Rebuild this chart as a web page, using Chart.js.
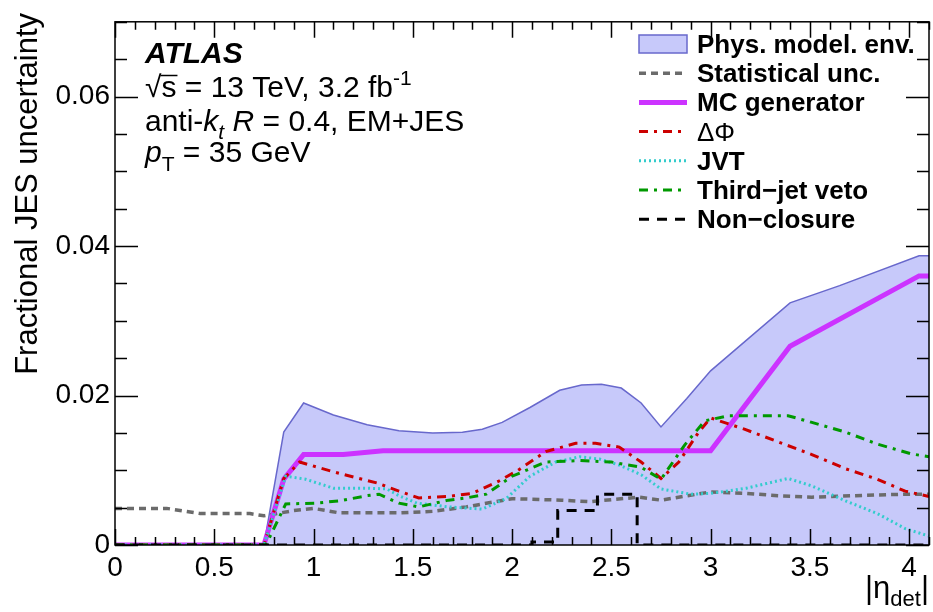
<!DOCTYPE html>
<html lang="en">
  <head>
    <meta charset="UTF-8" />
    <title>Fractional JES uncertainty vs |eta_det|</title>
    <script src="https://cdn.jsdelivr.net/npm/chart.js"></script>
    <style>
      body {
        margin: 0;
        background: #fff;
      }
    </style>
  </head>
  <body>
    <canvas id="jesChart" width="933" height="612"></canvas>
    <script>
      // eta values and uncertainties for each component
      const envEta = [0, 0.75, 0.85, 0.95, 1.1, 1.27, 1.43, 1.6, 1.75, 1.85, 1.95, 2.09, 2.24, 2.35, 2.45, 2.55, 2.65, 2.75, 2.88, 3.0, 3.4, 3.65, 4.05, 4.1];
      const envVal = [0, 0, 0.0151, 0.019, 0.0174, 0.0161, 0.0153, 0.015, 0.0151, 0.0155, 0.0164, 0.0184, 0.0207, 0.0214, 0.0215, 0.021, 0.019, 0.0158, 0.0196, 0.0233, 0.0324, 0.0347, 0.0387, 0.0387];

      const statEta = [0, 0.26, 0.43, 0.68, 0.75, 0.9, 1.0, 1.13, 1.43, 1.6, 1.77, 2.0, 2.25, 2.39, 2.64, 2.75, 3.0, 3.18, 3.34, 3.51, 3.84, 4.01, 4.1];
      const statVal = [0.0049, 0.0049, 0.0042, 0.0042, 0.0039, 0.0046, 0.0049, 0.0043, 0.0043, 0.0045, 0.0051, 0.0062, 0.006, 0.0058, 0.0064, 0.006, 0.0071, 0.0069, 0.0066, 0.0064, 0.0067, 0.0068, 0.0068];

      const mcEta = [0, 0.75, 0.85, 0.95, 1.15, 1.35, 3.0, 3.4, 4.05, 4.1];
      const mcVal = [0, 0, 0.0088, 0.0121, 0.0121, 0.0126, 0.0126, 0.0266, 0.036, 0.036];

      const dphiEta = [0, 0.75, 0.85, 0.93, 1.1, 1.23, 1.32, 1.43, 1.53, 1.68, 1.8, 1.93, 2.03, 2.17, 2.32, 2.42, 2.54, 2.65, 2.75, 2.84, 2.94, 3.0, 3.17, 3.34, 3.51, 3.68, 3.84, 3.98, 4.1];
      const dphiVal = [0, 0, 0.0089, 0.0111, 0.0098, 0.0089, 0.0083, 0.0072, 0.0063, 0.0065, 0.0069, 0.0085, 0.01, 0.0125, 0.0136, 0.0136, 0.0131, 0.0111, 0.0089, 0.0111, 0.0151, 0.017, 0.0155, 0.0138, 0.0121, 0.0102, 0.0088, 0.0072, 0.0065];

      const jvtEta = [0, 0.75, 0.86, 0.96, 1.1, 1.27, 1.37, 1.43, 1.52, 1.68, 1.85, 1.97, 2.09, 2.22, 2.34, 2.44, 2.54, 2.65, 2.75, 2.9, 3.0, 3.18, 3.39, 3.51, 3.68, 3.84, 3.98, 4.1];
      const jvtVal = [0, 0, 0.0092, 0.0088, 0.0076, 0.0076, 0.0075, 0.0066, 0.0056, 0.0051, 0.0048, 0.0062, 0.0092, 0.0111, 0.0118, 0.0115, 0.0107, 0.0094, 0.0075, 0.0068, 0.0069, 0.0076, 0.0089, 0.0079, 0.0059, 0.0042, 0.0022, 0.0012];

      const vetoEta = [0, 0.76, 0.86, 1.01, 1.13, 1.27, 1.33, 1.43, 1.53, 1.68, 1.77, 1.87, 2.0, 2.17, 2.34, 2.5, 2.65, 2.75, 2.87, 2.97, 3.09, 3.39, 3.51, 3.68, 3.84, 4.01, 4.1];
      const vetoVal = [0, 0, 0.0055, 0.0056, 0.0059, 0.0066, 0.0068, 0.0056, 0.0051, 0.006, 0.0063, 0.0068, 0.0092, 0.0111, 0.0113, 0.0111, 0.0104, 0.0088, 0.0134, 0.0166, 0.0173, 0.0173, 0.0164, 0.0151, 0.0135, 0.0122, 0.0118];

      const closureEta = [0, 2.1, 2.1, 2.23, 2.23, 2.43, 2.43, 2.63, 2.63, 4.1];
      const closureVal = [0, 0, 0.0004, 0.0004, 0.0046, 0.0046, 0.0068, 0.0068, 0, 0];

      const FONT = '"Liberation Sans", Arial, Helvetica, sans-serif';

      function pts(xs, ys) {
        return xs.map((x, i) => ({ x: x, y: ys[i] }));
      }

      const datasets = [
        {
          label: "Phys. model. env.",
          data: pts(envEta, envVal),
          borderColor: "rgb(104,104,204)",
          backgroundColor: "rgb(199,201,250)",
          borderWidth: 1.5,
          fill: "origin",
          order: 7,
          isBand: true,
        },
        {
          label: "Statistical unc.",
          data: pts(statEta, statVal),
          borderColor: "#6b6b6b",
          borderWidth: 3.5,
          borderDash: [7, 5],
          order: 6,
        },
        {
          label: "MC generator",
          data: pts(mcEta, mcVal),
          borderColor: "#cc33ff",
          borderWidth: 5,
          order: 5,
        },
        {
          label: "\u0394\u03A6",
          data: pts(dphiEta, dphiVal),
          borderColor: "#cc0000",
          borderWidth: 3,
          borderDash: [9, 6, 3, 6],
          order: 4,
          plain: true,
        },
        {
          label: "JVT",
          data: pts(jvtEta, jvtVal),
          borderColor: "#33cccc",
          borderWidth: 3,
          borderDash: [2, 3],
          order: 3,
        },
        {
          label: "Third\u2212jet veto",
          data: pts(vetoEta, vetoVal),
          borderColor: "#009900",
          borderWidth: 3,
          borderDash: [9, 6, 3, 6],
          order: 2,
        },
        {
          label: "Non\u2212closure",
          data: pts(closureEta, closureVal),
          borderColor: "#000000",
          borderWidth: 3,
          borderDash: [10, 8],
          order: 1,
        },
      ];

      // draws a sequence of text pieces, each with its own font and vertical shift
      function drawRuns(ctx, x, y, runs) {
        runs.forEach((r) => {
          ctx.font = r.font;
          ctx.fillText(r.t, x, y + (r.dy || 0));
          x += ctx.measureText(r.t).width;
        });
        return x;
      }

      function runsWidth(ctx, runs) {
        let w = 0;
        runs.forEach((r) => {
          ctx.font = r.font;
          w += ctx.measureText(r.t).width;
        });
        return w;
      }

      // frame with inward ticks on all four sides, labels and legend
      const decorations = {
        id: "decorations",
        afterDraw(chart) {
          const ctx = chart.ctx;
          const a = chart.chartArea;
          const xs = chart.scales.x;
          const ys = chart.scales.y;
          ctx.save();
          ctx.strokeStyle = "#000";
          ctx.lineWidth = 1.5;
          ctx.strokeRect(a.left, a.top, a.right - a.left, a.bottom - a.top);

          ctx.beginPath();
          for (let i = 0; i <= 41; i++) {
            const v = i / 10;
            const px = Math.round(xs.getPixelForValue(v)) + 0.5;
            const len = i % 5 === 0 ? 16 : 8;
            ctx.moveTo(px, a.bottom);
            ctx.lineTo(px, a.bottom - len);
            ctx.moveTo(px, a.top);
            ctx.lineTo(px, a.top + len);
          }
          for (let i = 0; i <= 14; i++) {
            const v = i * 0.005;
            const py = Math.round(ys.getPixelForValue(v)) + 0.5;
            const len = i % 4 === 0 ? 23 : 12;
            ctx.moveTo(a.left, py);
            ctx.lineTo(a.left + len, py);
            ctx.moveTo(a.right, py);
            ctx.lineTo(a.right - len, py);
          }
          ctx.stroke();

          // axis titles
          ctx.fillStyle = "#000";
          ctx.textBaseline = "alphabetic";
          ctx.save();
          ctx.translate(37, 13);
          ctx.rotate(-Math.PI / 2);
          ctx.textAlign = "right";
          ctx.font = "31px " + FONT;
          ctx.fillText("Fractional JES uncertainty", 0, 0);
          ctx.restore();

          ctx.textAlign = "left";
          const xTitle = [
            { t: "|\u03B7", font: "31px " + FONT },
            { t: "det", font: "22px " + FONT, dy: 8 },
            { t: "|", font: "31px " + FONT },
          ];
          drawRuns(ctx, a.right - runsWidth(ctx, xTitle), 598, xTitle);

          // experiment label block
          const reg = "30px " + FONT;
          const ital = "italic 30px " + FONT;
          const small = "21px " + FONT;
          ctx.font = "italic bold 30px " + FONT;
          ctx.fillText("ATLAS", 145, 63);
          // square root drawn as a radical with a bar over the s
          ctx.font = reg;
          ctx.fillText("\u221A", 145, 97);
          const sx = 145 + ctx.measureText("\u221A").width;
          const sw = ctx.measureText("s").width;
          ctx.fillText("s", sx, 97);
          ctx.lineWidth = 1.5;
          ctx.beginPath();
          ctx.moveTo(sx - 1, 75.5);
          ctx.lineTo(sx + sw + 1, 75.5);
          ctx.stroke();
          drawRuns(ctx, sx + sw, 97, [
            { t: " = 13 TeV, 3.2 fb", font: reg },
            { t: "-1", font: small, dy: -12 },
          ]);
          drawRuns(ctx, 145, 131, [
            { t: "anti-", font: reg },
            { t: "k", font: ital },
            { t: "t", font: "italic 21px " + FONT, dy: 8 },
            { t: " ", font: reg },
            { t: "R", font: ital },
            { t: " = 0.4, EM+JES", font: reg },
          ]);
          drawRuns(ctx, 145, 162, [
            { t: "p", font: ital },
            { t: "T", font: small, dy: 9 },
            { t: " = 35 GeV", font: reg },
          ]);

          // legend
          const lx0 = 639;
          const lx1 = 687;
          chart.data.datasets.forEach((ds, i) => {
            const cy = 44 + i * 29.2;
            if (ds.isBand) {
              ctx.fillStyle = ds.backgroundColor;
              ctx.fillRect(lx0, cy - 9, lx1 - lx0, 18);
              ctx.strokeStyle = ds.borderColor;
              ctx.lineWidth = 1.5;
              ctx.setLineDash([]);
              ctx.strokeRect(lx0, cy - 9, lx1 - lx0, 18);
            } else {
              ctx.strokeStyle = ds.borderColor;
              ctx.lineWidth = ds.borderWidth;
              ctx.setLineDash(ds.borderDash || []);
              ctx.beginPath();
              ctx.moveTo(lx0, cy);
              ctx.lineTo(lx1, cy);
              ctx.stroke();
            }
            ctx.setLineDash([]);
            ctx.fillStyle = "#000";
            ctx.font = (ds.plain ? "" : "bold ") + "26px " + FONT;
            ctx.fillText(ds.label, 697, cy + 9);
          });
          ctx.restore();
        },
      };

      const ctx = document.getElementById("jesChart").getContext("2d");
      new Chart(ctx, {
        type: "line",
        data: { datasets: datasets },
        options: {
          responsive: false,
          animation: false,
          layout: { padding: { left: 0, top: 12, right: 4, bottom: 0 } },
          elements: {
            point: { radius: 0 },
            line: { tension: 0 },
          },
          plugins: {
            legend: { display: false },
            tooltip: { enabled: false },
          },
          scales: {
            x: {
              type: "linear",
              min: 0,
              max: 4.1,
              grid: { display: false, drawTicks: false },
              border: { display: false },
              ticks: {
                stepSize: 0.5,
                includeBounds: false,
                padding: 6,
                maxRotation: 0,
                color: "#000",
                font: { family: FONT, size: 28 },
                callback: (v) => String(Math.round(v * 10) / 10),
              },
              afterFit(scale) {
                scale.height = 67;
              },
            },
            y: {
              min: 0,
              max: 0.07,
              grid: { display: false, drawTicks: false },
              border: { display: false },
              ticks: {
                stepSize: 0.02,
                includeBounds: false,
                padding: 5,
                color: "#000",
                font: { family: FONT, size: 28 },
                callback: (v) => (v === 0 ? "0" : v.toFixed(2)),
              },
              afterFit(scale) {
                scale.width = 115;
              },
            },
          },
        },
        plugins: [decorations],
      });
    </script>
  </body>
</html>
